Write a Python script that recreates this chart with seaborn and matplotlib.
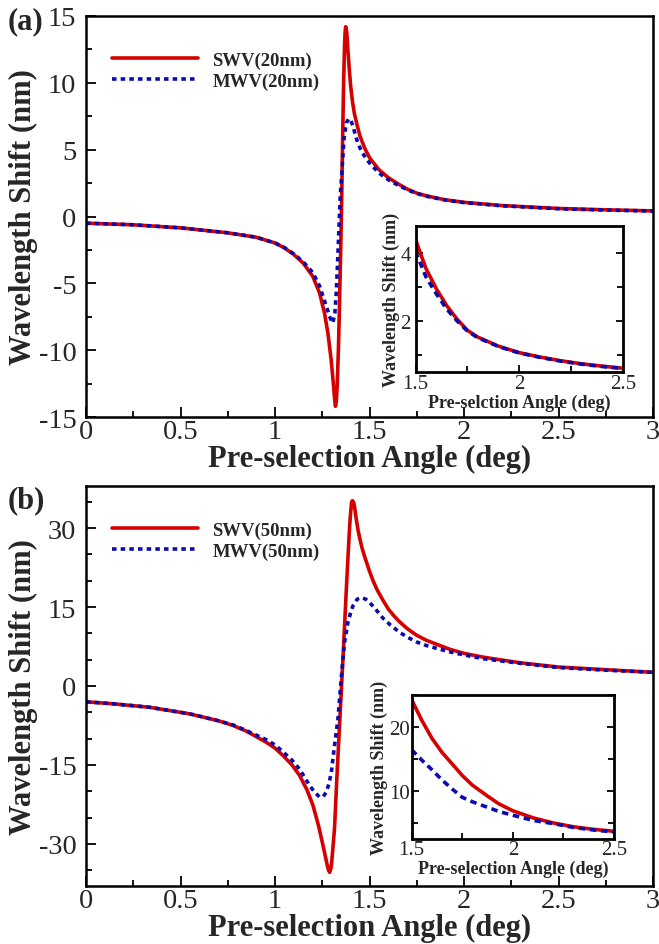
import matplotlib
matplotlib.use("Agg")
import matplotlib.pyplot as plt
import seaborn as sns
from matplotlib.ticker import MultipleLocator, FuncFormatter
from matplotlib.font_manager import FontProperties

# ---------------- data ----------------
# Panel (a): 20 nm
a_swv_x = [0, 0.25, 0.5, 0.75, 0.9, 1.0, 1.05, 1.1, 1.15, 1.2, 1.236, 1.262, 1.28, 1.297, 1.31,
           1.315, 1.32, 1.3245, 1.329, 1.336, 1.341, 1.348, 1.353, 1.358, 1.363, 1.368, 1.371,
           1.374, 1.377, 1.38, 1.386, 1.392, 1.40, 1.41, 1.42, 1.435, 1.45, 1.475, 1.5, 1.55,
           1.6, 1.65, 1.7, 1.75, 1.8, 1.9, 2.0, 2.2, 2.5, 2.75, 3.0]
a_swv_y = [-0.5, -0.62, -0.85, -1.22, -1.55, -1.98, -2.35, -2.85, -3.5, -4.48, -5.73, -7.23, -8.73,
           -10.7, -12.7, -13.6, -14.2, -13.8, -12.7, -9.7, -6.7, -2.2, 1.5, 6.0, 10.0, 12.8,
           13.8, 14.2, 14.1, 13.7, 12.4, 11.2, 9.8, 8.6, 7.7, 6.8, 6.0, 5.1, 4.4, 3.5,
           2.9, 2.45, 2.05, 1.75, 1.55, 1.25, 1.06, 0.82, 0.6, 0.5, 0.42]
a_mwv_x = [0, 0.25, 0.5, 0.75, 0.9, 1.0, 1.05, 1.1, 1.15, 1.2, 1.236, 1.271, 1.292, 1.306, 1.317,
           1.324, 1.331, 1.338, 1.345, 1.35, 1.356, 1.365, 1.377, 1.391, 1.40, 1.412, 1.425,
           1.438, 1.46, 1.5, 1.55, 1.6, 1.65, 1.7, 1.75, 1.8, 1.9, 2.0, 2.2, 2.5, 2.75, 3.0]
a_mwv_y = [-0.5, -0.62, -0.85, -1.22, -1.55, -1.98, -2.33, -2.8, -3.4, -4.2, -5.2, -6.7, -7.6, -7.97,
           -7.2, -5.7, -3.5, -1.0, 1.5, 2.5, 3.8, 5.8, 7.0, 7.33, 7.2, 6.8, 6.1,
           5.5, 4.8, 4.0, 3.25, 2.75, 2.35, 2.0, 1.72, 1.52, 1.23, 1.04, 0.8, 0.58, 0.48, 0.41]
# inset (a)
ia_x = [1.5, 1.55, 1.6, 1.65, 1.7, 1.75, 1.8, 1.9, 2.0, 2.1, 2.2, 2.3, 2.4, 2.5]
ia_swv = [4.4, 3.55, 2.95, 2.45, 2.05, 1.72, 1.52, 1.25, 1.06, 0.93, 0.82, 0.73, 0.66, 0.6]
ia_mwv = [4.05, 3.3, 2.8, 2.35, 2.0, 1.7, 1.5, 1.24, 1.05, 0.92, 0.81, 0.72, 0.65, 0.59]

# Panel (b): 50 nm
b_swv_x = [0, 0.15, 0.338, 0.55, 0.7, 0.778, 0.85, 0.954, 1.0, 1.042, 1.09, 1.13, 1.17, 1.201,
           1.23, 1.254, 1.275, 1.283, 1.289, 1.295, 1.30, 1.315, 1.327, 1.345, 1.363, 1.38,
           1.394, 1.399, 1.403, 1.405, 1.409, 1.413, 1.418, 1.423, 1.43, 1.44, 1.45, 1.46,
           1.474, 1.49, 1.5, 1.52, 1.54, 1.571, 1.6, 1.63, 1.659, 1.7, 1.747, 1.8, 1.85,
           1.923, 2.0, 2.099, 2.187, 2.3, 2.5, 2.75, 3.0]
b_swv_y = [-3.0, -3.4, -4.05, -5.3, -6.6, -7.5, -8.6, -10.7, -11.8, -13.2, -15.0, -17.0, -19.8,
           -22.7, -26.5, -30.3, -33.8, -35.0, -35.4, -34.8, -33.5, -27.0, -17.7, -5.0, 7.7, 20.3,
           29.8, 32.5, 34.0, 34.9, 35.2, 35.1, 34.6, 33.5, 31.7, 29.5, 27.8, 26.3,
           24.6, 22.9, 21.8, 19.9, 18.3, 16.3, 14.6, 13.3, 12.2, 10.9, 9.7, 8.7, 8.0,
           7.0, 6.2, 5.5, 5.0, 4.4, 3.6, 3.1, 2.6]
b_mwv_x = [0, 0.15, 0.338, 0.55, 0.7, 0.778, 0.85, 0.954, 1.0, 1.042, 1.09, 1.13, 1.183, 1.21,
           1.236, 1.255, 1.271, 1.285, 1.298, 1.315, 1.333, 1.35, 1.368, 1.386, 1.40, 1.412,
           1.435, 1.456, 1.48, 1.5, 1.53, 1.571, 1.61, 1.659, 1.7, 1.747, 1.8, 1.85, 1.923,
           2.0, 2.099, 2.187, 2.3, 2.5, 2.75, 3.0]
b_mwv_y = [-3.0, -3.4, -4.05, -5.3, -6.6, -7.4, -8.5, -10.2, -11.2, -12.5, -14.1, -15.8, -18.9, -20.2,
           -21.1, -21.0, -20.2, -18.6, -16.4, -11.3, -6.3, 1.3, 8.3, 12.1, 13.9, 15.2,
           16.5, 16.8, 16.5, 15.9, 14.7, 12.9, 11.6, 10.2, 9.3, 8.4, 7.7, 7.2, 6.5,
           5.9, 5.2, 4.8, 4.3, 3.5, 3.0, 2.6]
# inset (b)
ib_x = [1.5, 1.55, 1.6, 1.65, 1.7, 1.75, 1.8, 1.87, 1.93, 2.0, 2.1, 2.2, 2.3, 2.4, 2.5]
ib_swv = [24.2, 21.0, 18.2, 16.0, 14.2, 12.4, 10.9, 9.3, 8.0, 6.9, 5.8, 5.0, 4.4, 4.0, 3.7]
ib_mwv = [16.4, 14.8, 13.3, 11.7, 10.3, 9.0, 8.3, 7.5, 6.8, 6.2, 5.4, 4.9, 4.3, 3.9, 3.6]

labels_a = ["SWV(20nm)", "MWV(20nm)"]
labels_b = ["SWV(50nm)", "MWV(50nm)"]
xlabel_main = "Pre-selection Angle (deg)"
xlabel_inset_a = "Pre-selction Angle (deg)"
xlabel_inset_b = "Pre-selection Angle (deg)"
ylabel = "Wavelength Shift (nm)"

# ---------------- style ----------------
sns.set_style("ticks")
plt.rcParams["font.family"] = ["Liberation Serif", "DejaVu Serif"]
plt.rcParams["axes.unicode_minus"] = False

RED = "#d50000"
BLUE = "#0a0ab0"
LW = 2.6
DOT = (0, (1.25, 1.15))

fig = plt.figure(figsize=(6.59, 9.45), dpi=100)

fmt = FuncFormatter(lambda v, p: f"{v:g}")


def style_axis(ax, lw_spine, tick_fs, major_len, minor_len, xpad, ypad, right_ticks=False):
    for s in ax.spines.values():
        s.set_linewidth(lw_spine)
        s.set_color("black")
    ax.tick_params(which="both", direction="in", top=False, right=right_ticks,
                   labelsize=tick_fs, width=1.3, color="black")
    ax.tick_params(which="major", length=major_len)
    ax.tick_params(which="minor", length=minor_len)
    ax.tick_params(axis="x", which="major", pad=xpad)
    ax.tick_params(axis="y", which="major", pad=ypad)
    ax.xaxis.set_major_formatter(fmt)
    ax.yaxis.set_major_formatter(fmt)
    ax.grid(False)


def main_panel(rect, sx, sy, mx, my, labels, ylim, ymaj, ymin):
    ax = fig.add_axes(rect)
    sns.lineplot(x=sx, y=sy, ax=ax, color=RED, lw=LW, label=labels[0], sort=False)
    sns.lineplot(x=mx, y=my, ax=ax, color=BLUE, lw=LW, linestyle=DOT, label=labels[1], sort=False)
    ax.set_xlim(0, 3)
    ax.set_ylim(*ylim)
    ax.xaxis.set_major_locator(MultipleLocator(0.5))
    ax.xaxis.set_minor_locator(MultipleLocator(0.25))
    ax.yaxis.set_major_locator(MultipleLocator(ymaj))
    ax.yaxis.set_minor_locator(MultipleLocator(ymin))
    style_axis(ax, 1.8, 20.5, 7.5, 4.5, 1.5, 7)
    ax.set_xlabel(xlabel_main, fontsize=22, fontweight="bold")
    ax.set_ylabel(ylabel, fontsize=22, fontweight="bold")
    ax.xaxis.set_label_coords(0.5, -0.067)
    ax.yaxis.set_label_coords(-0.084, 0.5)
    ax.legend(loc="upper left", bbox_to_anchor=(0.046, 0.912), frameon=False,
              prop=FontProperties(family="Liberation Serif", weight="bold", size=13.5),
              handlelength=4.6, handletextpad=0.75, labelspacing=0.22,
              borderpad=0, borderaxespad=0)
    return ax


def inset_panel(rect, x, s, m, ylim, ymaj, ymin, xl, xlab_y, ylab_x, xpad, ypad):
    ax = fig.add_axes(rect)
    ax.set_facecolor("white")
    sns.lineplot(x=x, y=s, ax=ax, color=RED, lw=LW, sort=False)
    sns.lineplot(x=x, y=m, ax=ax, color=BLUE, lw=LW, linestyle=(0, (1.8, 1.3)), sort=False)
    ax.set_xlim(1.5, 2.5)
    ax.set_ylim(*ylim)
    ax.xaxis.set_major_locator(MultipleLocator(0.5))
    ax.xaxis.set_minor_locator(MultipleLocator(0.25))
    ax.yaxis.set_major_locator(MultipleLocator(ymaj))
    ax.yaxis.set_minor_locator(MultipleLocator(ymin))
    style_axis(ax, 2.0, 15, 5, 4, xpad, ypad, right_ticks=True)
    ax.set_xlabel(xl, fontsize=13, fontweight="bold")
    ax.set_ylabel(ylabel, fontsize=13, fontweight="bold")
    ax.xaxis.set_label_coords(0.5, xlab_y)
    ax.yaxis.set_label_coords(ylab_x, 0.5)
    return ax


W, H = 659.0, 945.0
ax_a = main_panel([86 / W, 1 - 418 / H, 567 / W, 401 / H], a_swv_x, a_swv_y, a_mwv_x, a_mwv_y,
                  labels_a, (-15, 15), 5, 2.5)
ax_b = main_panel([86 / W, 1 - 887 / H, 567 / W, 400 / H], b_swv_x, b_swv_y, b_mwv_x, b_mwv_y,
                  labels_b, (-38, 38), 15, 5)

ins_a = inset_panel([415.5 / W, 1 - 372.6 / H, 207.5 / W, 145.6 / H], ia_x, ia_swv, ia_mwv,
                    (0.5, 4.8), 2, 1, xlabel_inset_a, -0.15, -0.075, 2, 3.5)
ins_b = inset_panel([411.7 / W, 1 - 840 / H, 202.3 / W, 144.3 / H], ib_x, ib_swv, ib_mwv,
                    (2.5, 25), 10, 5, xlabel_inset_b, -0.14, -0.117, 0.5, 1.5)

fig.text(8 / W, 1 - 22 / H, "(a)", fontsize=22, fontweight="bold", ha="left", va="center")
fig.text(8 / W, 1 - 501 / H, "(b)", fontsize=22, fontweight="bold", ha="left", va="center")

fig.savefig("out.png", dpi=100)
